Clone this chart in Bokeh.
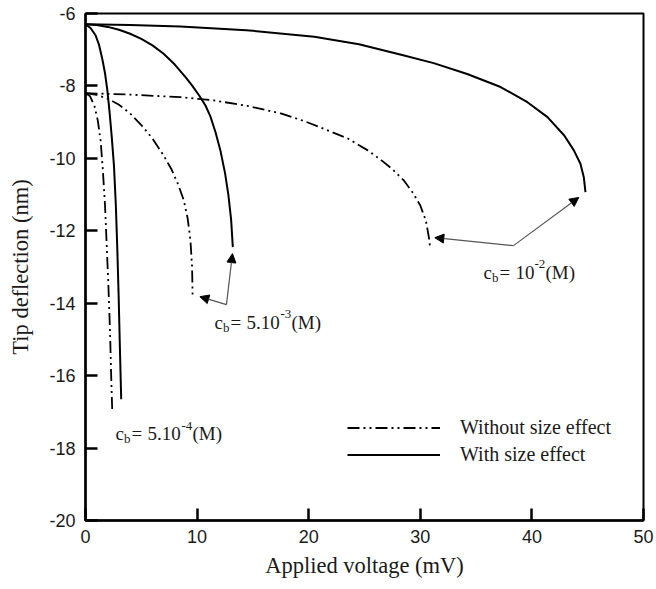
from bokeh.plotting import figure
from bokeh.models import Range1d, Label, Arrow, NormalHead, Legend, LegendItem, FixedTicker
from bokeh.embed import file_html
from bokeh.resources import INLINE

x_ticks = [0, 10, 20, 30, 40, 50]
y_ticks = [-20, -18, -16, -14, -12, -10, -8, -6]

# With size effect (solid)
v_with_1e2 = [0, 4, 8.5, 14.4, 20.5, 24.5, 28.2, 31.2, 34.2, 37.2, 39.6, 41.4, 42.9, 43.76, 44.35, 44.65, 44.8]
d_with_1e2 = [-6.30, -6.32, -6.36, -6.46, -6.64, -6.85, -7.13, -7.37, -7.67, -8.03, -8.45, -8.86, -9.37, -9.78, -10.15, -10.52, -10.93]

v_with_5e3 = [0, 1, 2, 3, 4, 5, 6, 7, 8, 9, 9.56, 10.2, 10.75, 11.2, 11.65, 12.1, 12.5, 12.8, 13.05, 13.2]
d_with_5e3 = [-6.30, -6.32, -6.37, -6.45, -6.56, -6.70, -6.88, -7.11, -7.41, -7.77, -7.99, -8.27, -8.54, -8.85, -9.28, -9.80, -10.40, -11.00, -11.70, -12.45]

v_with_5e4 = [0, 0.45, 0.9, 1.2, 1.5, 1.75, 1.95, 2.15, 2.35, 2.55, 2.72, 2.85, 2.97, 3.08, 3.2]
d_with_5e4 = [-6.30, -6.40, -6.60, -6.85, -7.25, -7.65, -8.10, -8.70, -9.40, -10.20, -11.30, -12.50, -13.80, -15.20, -16.65]

# Without size effect (dash-dot-dot)
v_wo_1e2 = [0, 4, 8.5, 11.5, 14.5, 17.5, 19.5, 21.5, 23.5, 25.3, 26.5, 27.5, 28.5, 29.4, 30.0, 30.5, 30.77, 30.86]
d_wo_1e2 = [-8.20, -8.24, -8.31, -8.40, -8.55, -8.76, -8.96, -9.20, -9.45, -9.78, -10.05, -10.30, -10.60, -10.98, -11.30, -11.72, -12.18, -12.41]

v_wo_5e3 = [0, 1, 2, 3, 4, 5, 6, 7, 7.7, 8.3, 8.8, 9.15, 9.4, 9.55, 9.6]
d_wo_5e3 = [-8.20, -8.25, -8.35, -8.52, -8.76, -9.08, -9.45, -9.92, -10.30, -10.72, -11.15, -11.65, -12.25, -13.00, -13.85]

v_wo_5e4 = [0, 0.4, 0.8, 1.1, 1.35, 1.55, 1.75, 1.9, 2.05, 2.2, 2.3, 2.4]
d_wo_5e4 = [-8.20, -8.28, -8.55, -8.95, -9.50, -10.30, -11.30, -12.40, -13.50, -14.80, -16.00, -17.00]

legend_labels = ["Without size effect", "With size effect"]
x_label = "Applied voltage (mV)"
y_label = "Tip deflection (nm)"

SERIF = "Liberation Serif"
SANS = "Liberation Sans"
DASH = "12 4 2 4 2 4"

p = figure(width=656, height=589, output_backend="svg", toolbar_location=None,
           x_range=Range1d(0, 50), y_range=Range1d(-20, -6),
           min_border_left=85, min_border_right=13, min_border_top=13, min_border_bottom=69)
p.grid.visible = False
p.background_fill_color = "white"
p.border_fill_color = "white"
p.outline_line_color = "black"
p.outline_line_width = 2

for ax in (p.xaxis[0], p.yaxis[0]):
    ax.axis_line_width = 2.5
    ax.axis_line_color = "black"
    ax.major_tick_in = 12
    ax.major_tick_out = 0
    ax.major_tick_line_width = 2.5
    ax.major_tick_line_color = "black"
    ax.minor_tick_line_color = None
    ax.major_label_text_font = SANS
    ax.major_label_text_font_size = "18px"
    ax.major_label_text_color = "#1a1a1a"
    ax.axis_label_text_font = SERIF
    ax.axis_label_text_font_size = "22.5px"
    ax.axis_label_text_font_style = "normal"
    ax.axis_label_text_color = "#1a1a1a"

p.xaxis.ticker = FixedTicker(ticks=x_ticks)
p.yaxis.ticker = FixedTicker(ticks=y_ticks)
p.xaxis.major_label_overrides = {t: str(t) for t in x_ticks}
p.yaxis.major_label_overrides = {t: str(t) for t in y_ticks}
p.xaxis.major_label_standoff = 9
p.yaxis.major_label_standoff = 10
p.xaxis.axis_label = x_label
p.yaxis.axis_label = y_label
p.xaxis.axis_label_standoff = 7
p.yaxis.axis_label_standoff = 13

r_s1 = p.line(v_with_1e2, d_with_1e2, line_color="black", line_width=2)
p.line(v_with_5e3, d_with_5e3, line_color="black", line_width=2)
p.line(v_with_5e4, d_with_5e4, line_color="black", line_width=2)
r_d1 = p.line(v_wo_1e2, d_wo_1e2, line_color="black", line_width=1.8, line_dash=DASH)
p.line(v_wo_5e3, d_wo_5e3, line_color="black", line_width=1.8, line_dash=DASH)
p.line(v_wo_5e4, d_wo_5e4, line_color="black", line_width=1.8, line_dash=DASH)

legend = Legend(items=[LegendItem(label=legend_labels[0], renderers=[r_d1]),
                       LegendItem(label=legend_labels[1], renderers=[r_s1])],
                location=(262, 52), glyph_width=93, glyph_height=27, label_height=27,
                spacing=0, padding=0, margin=0, label_standoff=20,
                label_text_font=SERIF, label_text_font_size="20px", label_text_color="#1a1a1a",
                background_fill_alpha=0, border_line_color=None)
p.add_layout(legend)

# Arrows
def arrow(x0, y0, x1, y1):
    p.add_layout(Arrow(x_start=x0, y_start=y0, x_end=x1, y_end=y1,
                       line_color="#555555", line_width=1.2,
                       end=NormalHead(size=9, fill_color="black", line_color="black", line_width=1)))

arrow(38.35, -12.41, 44.2, -11.08)
arrow(38.35, -12.41, 31.3, -12.19)
arrow(12.63, -14.04, 13.17, -12.63)
arrow(12.63, -14.04, 10.25, -13.82)

# c_b annotations
def cb_label(x, y, num, sup, num_w):
    pieces = [("c", 0, 0, "19px"), ("b", 8.5, -5, "13px"), ("=", 16, 0, "19px"),
              (num, 32, 0, "19px"), (sup, 32 + num_w, 8, "13px"), ("(M)", 32 + num_w + 11, 0, "19px")]
    for t, dx, dy, fs in pieces:
        p.add_layout(Label(x=x, y=y, x_offset=dx, y_offset=dy, text=t, text_font=SERIF,
                           text_font_size=fs, text_color="#1a1a1a", text_baseline="alphabetic"))

cb_label(35.66, -13.15, "10", "-2", 19)
cb_label(11.56, -14.53, "5.10", "-3", 34)
cb_label(2.69, -17.6, "5.10", "-4", 34)

open("out.html", "w").write(file_html(p, INLINE))
